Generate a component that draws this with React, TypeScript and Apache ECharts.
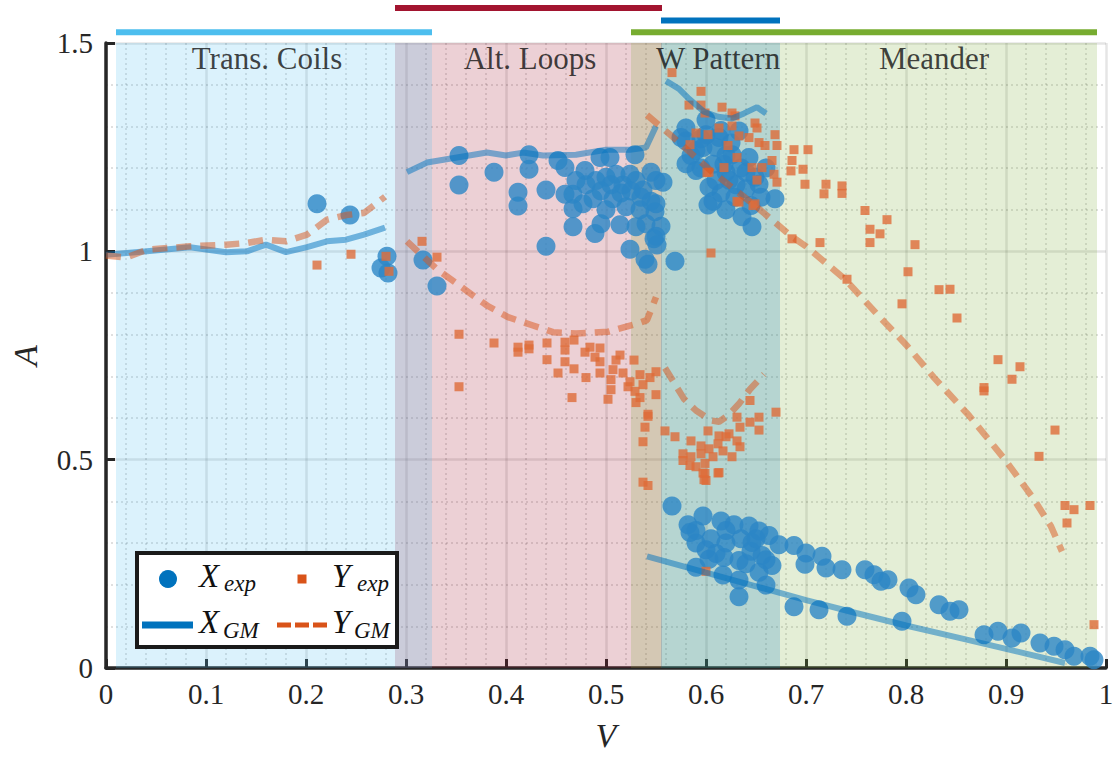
import React, { useEffect, useRef } from "react";
import * as echarts from "echarts";

// ---------- data ----------
const regionNames = ["Trans. Coils", "Alt. Loops", "W Pattern", "Meander"];
const regionStart = [0.01, 0.289, 0.555, 0.525];
const regionEnd = [0.326, 0.556, 0.674, 0.991];
const regionLabelV = [0.161, 0.424, 0.612, 0.828];

const xExp: number[][] = [
  [0.211, 1.114], [0.244, 1.087], [0.275, 0.96], [0.281, 0.988], [0.282, 0.948], [0.317, 0.979], [0.331, 0.917],
  [0.353, 1.23], [0.353, 1.159], [0.388, 1.19], [0.423, 1.232], [0.423, 1.197], [0.412, 1.142], [0.412, 1.109],
  [0.44, 1.147], [0.452, 1.218], [0.459, 1.201], [0.459, 1.137], [0.467, 1.137], [0.479, 1.194], [0.467, 1.102],
  [0.467, 1.059], [0.494, 1.225], [0.504, 1.225], [0.489, 1.043], [0.495, 1.066], [0.514, 1.064], [0.44, 1.012],
  [0.529, 1.232], [0.524, 1.005], [0.539, 0.981], [0.487, 1.126], [0.49, 1.17], [0.5, 1.178], [0.51, 1.185],
  [0.517, 1.159], [0.524, 1.185], [0.53, 1.17], [0.537, 1.147], [0.507, 1.126], [0.52, 1.107], [0.534, 1.1],
  [0.54, 1.066], [0.549, 1.095], [0.55, 1.17], [0.55, 1.036], [0.53, 1.059], [0.477, 1.114], [0.5, 1.1],
  [0.542, 0.969], [0.548, 1.03], [0.551, 1.015], [0.569, 0.976],
  [0.545, 1.12], [0.535, 1.13], [0.525, 1.145], [0.515, 1.14], [0.505, 1.16], [0.495, 1.145], [0.545, 1.19],
  [0.555, 1.06], [0.48, 1.16], [0.47, 1.17],
  [0.58, 1.296], [0.575, 1.273], [0.6, 1.315], [0.59, 1.242], [0.613, 1.273], [0.633, 1.289], [0.626, 1.232],
  [0.59, 1.194], [0.607, 1.209], [0.603, 1.154], [0.602, 1.111], [0.623, 1.171], [0.629, 1.13], [0.636, 1.083],
  [0.646, 1.059], [0.649, 1.178], [0.653, 1.161], [0.643, 1.225], [0.669, 1.126], [0.618, 1.209], [0.597, 1.249],
  [0.58, 1.265], [0.557, 1.166], [0.55, 1.114], [0.61, 1.25], [0.62, 1.19], [0.635, 1.2], [0.64, 1.15],
  [0.615, 1.14], [0.6, 1.28], [0.625, 1.26], [0.66, 1.2],
  [0.585, 1.23], [0.595, 1.2], [0.61, 1.17], [0.62, 1.23], [0.63, 1.16], [0.64, 1.19], [0.645, 1.11],
  [0.655, 1.13], [0.595, 1.27], [0.615, 1.29], [0.607, 1.12], [0.62, 1.1], [0.58, 1.21],
  [0.566, 0.389], [0.582, 0.344], [0.584, 0.325], [0.597, 0.365], [0.615, 0.353], [0.628, 0.344], [0.643, 0.341],
  [0.653, 0.329], [0.663, 0.318], [0.673, 0.296], [0.688, 0.294], [0.699, 0.249], [0.59, 0.242], [0.618, 0.265],
  [0.633, 0.258], [0.617, 0.223], [0.633, 0.211], [0.633, 0.171], [0.66, 0.199], [0.653, 0.23], [0.6, 0.284],
  [0.603, 0.261], [0.646, 0.301], [0.656, 0.27], [0.666, 0.246], [0.688, 0.147],
  [0.59, 0.3], [0.605, 0.31], [0.62, 0.3], [0.635, 0.31], [0.645, 0.28], [0.66, 0.26], [0.62, 0.33],
  [0.65, 0.31], [0.64, 0.25], [0.59, 0.33], [0.61, 0.275],
  [0.7, 0.276], [0.716, 0.268], [0.72, 0.24], [0.736, 0.236], [0.759, 0.236], [0.768, 0.224], [0.775, 0.208],
  [0.782, 0.212], [0.803, 0.192], [0.81, 0.176], [0.833, 0.152], [0.844, 0.136], [0.853, 0.14], [0.878, 0.08],
  [0.892, 0.088], [0.906, 0.072], [0.915, 0.084], [0.934, 0.06], [0.948, 0.052], [0.959, 0.044], [0.968, 0.028],
  [0.984, 0.028], [0.988, 0.02], [0.713, 0.14], [0.741, 0.124], [0.796, 0.112],
];

const yExp: number[][] = [
  [0.211, 0.967], [0.245, 0.993], [0.28, 0.988], [0.283, 0.952], [0.316, 1.024], [0.331, 0.986],
  [0.353, 0.801], [0.353, 0.675], [0.388, 0.78], [0.412, 0.77], [0.412, 0.758], [0.423, 0.775], [0.423, 0.766],
  [0.441, 0.78], [0.441, 0.74], [0.452, 0.708], [0.459, 0.782], [0.459, 0.763], [0.459, 0.735], [0.468, 0.787],
  [0.468, 0.718], [0.466, 0.649], [0.48, 0.697], [0.479, 0.758], [0.484, 0.77], [0.494, 0.768], [0.494, 0.735],
  [0.494, 0.708], [0.489, 0.746], [0.507, 0.716], [0.505, 0.692], [0.514, 0.751], [0.51, 0.739], [0.505, 0.668],
  [0.502, 0.645], [0.517, 0.708], [0.524, 0.687], [0.528, 0.739], [0.534, 0.704], [0.537, 0.68], [0.544, 0.697],
  [0.55, 0.711], [0.529, 0.664], [0.534, 0.649], [0.55, 0.656], [0.542, 0.609], [0.53, 0.637], [0.522, 0.675],
  [0.542, 0.604], [0.539, 0.578], [0.559, 0.569], [0.569, 0.555], [0.585, 0.545], [0.602, 0.569], [0.613, 0.557],
  [0.62, 0.555], [0.631, 0.602], [0.634, 0.578], [0.644, 0.59], [0.653, 0.602], [0.653, 0.571], [0.644, 0.642],
  [0.67, 0.614], [0.577, 0.514], [0.577, 0.498], [0.585, 0.507], [0.595, 0.533], [0.603, 0.526], [0.612, 0.538],
  [0.617, 0.521], [0.626, 0.507], [0.634, 0.531], [0.59, 0.483], [0.599, 0.491], [0.599, 0.467], [0.6, 0.45],
  [0.613, 0.469], [0.607, 0.507], [0.595, 0.514], [0.623, 0.562], [0.631, 0.545], [0.584, 0.486], [0.537, 0.543],
  [0.542, 0.438], [0.537, 0.446], [0.597, 0.468], [0.598, 0.452], [0.612, 0.468], [0.6, 0.232],
  [0.566, 1.429], [0.595, 1.384], [0.583, 1.351], [0.595, 1.351], [0.599, 1.332], [0.616, 1.346], [0.626, 1.332],
  [0.629, 1.325], [0.649, 1.308], [0.651, 1.296], [0.613, 1.296], [0.626, 1.301], [0.59, 1.284], [0.602, 1.28],
  [0.584, 1.256], [0.633, 1.277], [0.643, 1.273], [0.653, 1.261], [0.669, 1.28], [0.622, 1.254], [0.659, 1.254],
  [0.671, 1.254], [0.631, 1.225], [0.646, 1.201], [0.656, 1.201], [0.666, 1.218], [0.603, 1.19], [0.668, 1.185],
  [0.651, 1.171], [0.671, 1.166], [0.633, 1.118], [0.649, 1.114], [0.618, 1.201], [0.601, 1.189],
  [0.688, 1.244], [0.702, 1.244], [0.697, 1.197], [0.686, 1.218], [0.685, 1.193], [0.699, 1.161], [0.72, 1.161],
  [0.736, 1.157], [0.718, 1.138], [0.736, 1.139], [0.759, 1.098], [0.781, 1.076], [0.764, 1.053], [0.774, 1.042],
  [0.764, 1.021], [0.809, 1.016], [0.714, 1.021], [0.686, 1.03], [0.605, 0.996], [0.647, 1.11], [0.631, 1.12],
  [0.741, 0.933], [0.802, 0.951], [0.833, 0.908], [0.844, 0.909], [0.796, 0.874], [0.851, 0.84], [0.892, 0.74],
  [0.914, 0.723], [0.906, 0.693], [0.878, 0.673], [0.878, 0.665], [0.949, 0.571], [0.933, 0.508],
  [0.959, 0.39], [0.968, 0.38], [0.984, 0.39], [0.961, 0.348], [0.988, 0.104],
];

const xgmTrans = [[0, 0.992], [0.041, 1.0], [0.084, 1.01], [0.12, 0.998], [0.141, 1.0], [0.16, 1.016], [0.18, 0.998], [0.201, 1.01], [0.221, 1.024], [0.24, 1.028], [0.258, 1.04], [0.279, 1.057]];
const xgmAlt = [[0.301, 1.19], [0.321, 1.213], [0.351, 1.225], [0.381, 1.237], [0.4, 1.23], [0.417, 1.237], [0.437, 1.23], [0.47, 1.232], [0.5, 1.244], [0.524, 1.244], [0.54, 1.249], [0.55, 1.3]];
const xgmW = [[0.56, 1.409], [0.573, 1.39], [0.583, 1.366], [0.598, 1.335], [0.612, 1.323], [0.626, 1.319], [0.638, 1.331], [0.651, 1.346], [0.66, 1.331]];
const xgmMeander = [[0.541, 0.268], [0.6, 0.229], [0.65, 0.196], [0.7, 0.163], [0.75, 0.132], [0.8, 0.102], [0.85, 0.074], [0.9, 0.046], [0.959, 0.012]];

const ygmTrans = [[0, 0.99], [0.02, 0.985], [0.041, 1.004], [0.084, 1.012], [0.12, 1.016], [0.141, 1.02], [0.16, 1.028], [0.18, 1.024], [0.201, 1.04], [0.221, 1.076], [0.24, 1.087], [0.258, 1.092], [0.279, 1.131]];
const ygmAlt = [[0.301, 1.024], [0.331, 0.957], [0.358, 0.91], [0.381, 0.87], [0.402, 0.842], [0.427, 0.822], [0.447, 0.806], [0.47, 0.803], [0.502, 0.807], [0.532, 0.827], [0.541, 0.835], [0.55, 0.89]];
const ygmW = [[0.559, 0.72], [0.569, 0.681], [0.578, 0.646], [0.59, 0.618], [0.605, 0.594], [0.613, 0.591], [0.622, 0.606], [0.633, 0.634], [0.644, 0.669], [0.658, 0.705]];
const ygmMeander = [[0.541, 1.327], [0.566, 1.276], [0.605, 1.193], [0.649, 1.11], [0.686, 1.035], [0.7, 1.012], [0.739, 0.933], [0.775, 0.839], [0.8, 0.776], [0.828, 0.697], [0.863, 0.606], [0.899, 0.5], [0.927, 0.408], [0.945, 0.34], [0.956, 0.28]];

// ---------- styles ----------
const regionColors = ["#4DBEEE", "#A2142F", "#0072BD", "#77AC30"];
const regionBarLevel = [1.526, 1.584, 1.554, 1.526];
const regionDrawOrder = [1, 0, 3, 2];
const FONT = "'Liberation Serif', 'Times New Roman', serif";
const BLUE = "#0072BD";
const ORANGE = "#D95319";

function hexA(hex: string, a: number) {
  const n = parseInt(hex.slice(1), 16);
  return `rgba(${(n >> 16) & 255},${(n >> 8) & 255},${n & 255},${a})`;
}

export default function App() {
  const ref = useRef<HTMLDivElement>(null);
  useEffect(() => {
    document.body.style.margin = "0";
    const chart = echarts.init(ref.current!, null, { renderer: "svg" });

    const gmLine = (data: number[][], color: string, dashed: boolean) => ({
      type: "line",
      data,
      showSymbol: false,
      symbol: "none",
      z: 6,
      silent: true,
      lineStyle: dashed
        ? { color: hexA(color, 0.5), width: 6.5, type: [15, 9], cap: "butt" }
        : { color: hexA(color, 0.5), width: 6 },
    });

    const series: any[] = [
      {
        type: "line",
        data: [],
        z: 1,
        silent: true,
        markArea: {
          silent: true,
          data: regionDrawOrder.map((i) => [
            { xAxis: regionStart[i], itemStyle: { color: hexA(regionColors[i], 0.2) } },
            { xAxis: regionEnd[i] },
          ]),
        },
      },
      {
        type: "scatter",
        data: xExp,
        symbol: "circle",
        symbolSize: 19,
        z: 3,
        itemStyle: { color: "#2C86C6" },
      },
      {
        type: "scatter",
        data: yExp,
        symbol: "rect",
        symbolSize: 9,
        z: 4,
        itemStyle: { color: "#DF6B38" },
      },
      gmLine(xgmTrans, BLUE, false),
      gmLine(xgmAlt, BLUE, false),
      gmLine(xgmW, BLUE, false),
      gmLine(xgmMeander, BLUE, false),
      gmLine(ygmTrans, ORANGE, true),
      gmLine(ygmAlt, ORANGE, true),
      gmLine(ygmW, ORANGE, true),
      gmLine(ygmMeander, ORANGE, true),
      {
        type: "scatter",
        z: 8,
        silent: true,
        symbolSize: 0.1,
        itemStyle: { color: "transparent" },
        data: regionNames.map((n, i) => ({ name: n, value: [regionLabelV[i], 1.5] })),
        label: {
          show: true,
          position: "bottom",
          distance: 0,
          formatter: "{b}",
          fontFamily: FONT,
          fontSize: 31,
          color: "#111",
        },
      },
      ...regionNames.map((_, i) => ({
        type: "line",
        clip: false,
        silent: true,
        symbol: "none",
        z: 8,
        data: [
          [regionStart[i], regionBarLevel[i]],
          [regionEnd[i], regionBarLevel[i]],
        ],
        lineStyle: { color: regionColors[i], width: 6, cap: "butt" },
      })),
    ];

    const axisCommon = {
      type: "value",
      axisLine: { show: true, onZero: false, lineStyle: { color: "#262626", width: 3.5 } },
      axisTick: { show: true, inside: true, length: 9, lineStyle: { color: "#262626", width: 3 } },
      axisLabel: { fontFamily: FONT, fontSize: 29, color: "#262626" },
      splitLine: { show: true, lineStyle: { color: "rgba(0,0,0,0.1)", width: 2.5 } },
      minorTick: { show: false, splitNumber: 5 },
      minorSplitLine: { show: true, lineStyle: { color: "rgba(0,0,0,0.12)", width: 2, type: [2, 3] } },
      nameLocation: "middle",
      nameTextStyle: { fontFamily: FONT, fontStyle: "italic", fontSize: 34, color: "#262626" },
    };

    const legendText = (t: string, x: number, y: number, size: number) => ({
      type: "text",
      x,
      y,
      z: 101,
      style: {
        text: t,
        fontFamily: FONT,
        fontStyle: "italic",
        fontSize: size,
        fill: "#111",
        verticalAlign: "middle",
        align: "left",
      },
    });

    chart.setOption({
      animation: false,
      backgroundColor: "#fff",
      grid: { left: 101, right: 14, top: 43, bottom: 80, containLabel: false },
      xAxis: {
        ...axisCommon,
        min: 0,
        max: 1,
        interval: 0.1,
        name: "V",
        nameGap: 50,
        axisLabel: { ...axisCommon.axisLabel, margin: 11 },
      },
      yAxis: {
        ...axisCommon,
        min: 0,
        max: 1.5,
        interval: 0.5,
        name: "A",
        nameGap: 64,
        axisLabel: { ...axisCommon.axisLabel, margin: 13 },
      },
      series,
      graphic: [
        {
          type: "rect",
          z: 100,
          shape: { x: 137, y: 553, width: 260, height: 94 },
          style: { fill: "#fff", stroke: "#1a1a1a", lineWidth: 4 },
        },
        { type: "circle", z: 101, shape: { cx: 168, cy: 579, r: 9 }, style: { fill: BLUE } },
        { type: "rect", z: 101, shape: { x: 297.5, y: 574.5, width: 9, height: 9 }, style: { fill: ORANGE } },
        { type: "line", z: 101, shape: { x1: 142, y1: 625, x2: 193, y2: 625 }, style: { stroke: BLUE, lineWidth: 7 } },
        {
          type: "line",
          z: 101,
          shape: { x1: 277, y1: 625, x2: 327, y2: 625 },
          style: { stroke: ORANGE, lineWidth: 5, lineDash: [14, 4] },
        },
        legendText("X", 199, 576, 33),
        legendText("exp", 224, 583, 23),
        legendText("Y", 332, 576, 33),
        legendText("exp", 357, 583, 23),
        legendText("X", 199, 622, 33),
        legendText("GM", 223, 630, 23),
        legendText("Y", 332, 622, 33),
        legendText("GM", 354, 630, 23),
      ],
    });
    return () => chart.dispose();
  }, []);
  return <div ref={ref} style={{ width: 1120, height: 757 }} />;
}
